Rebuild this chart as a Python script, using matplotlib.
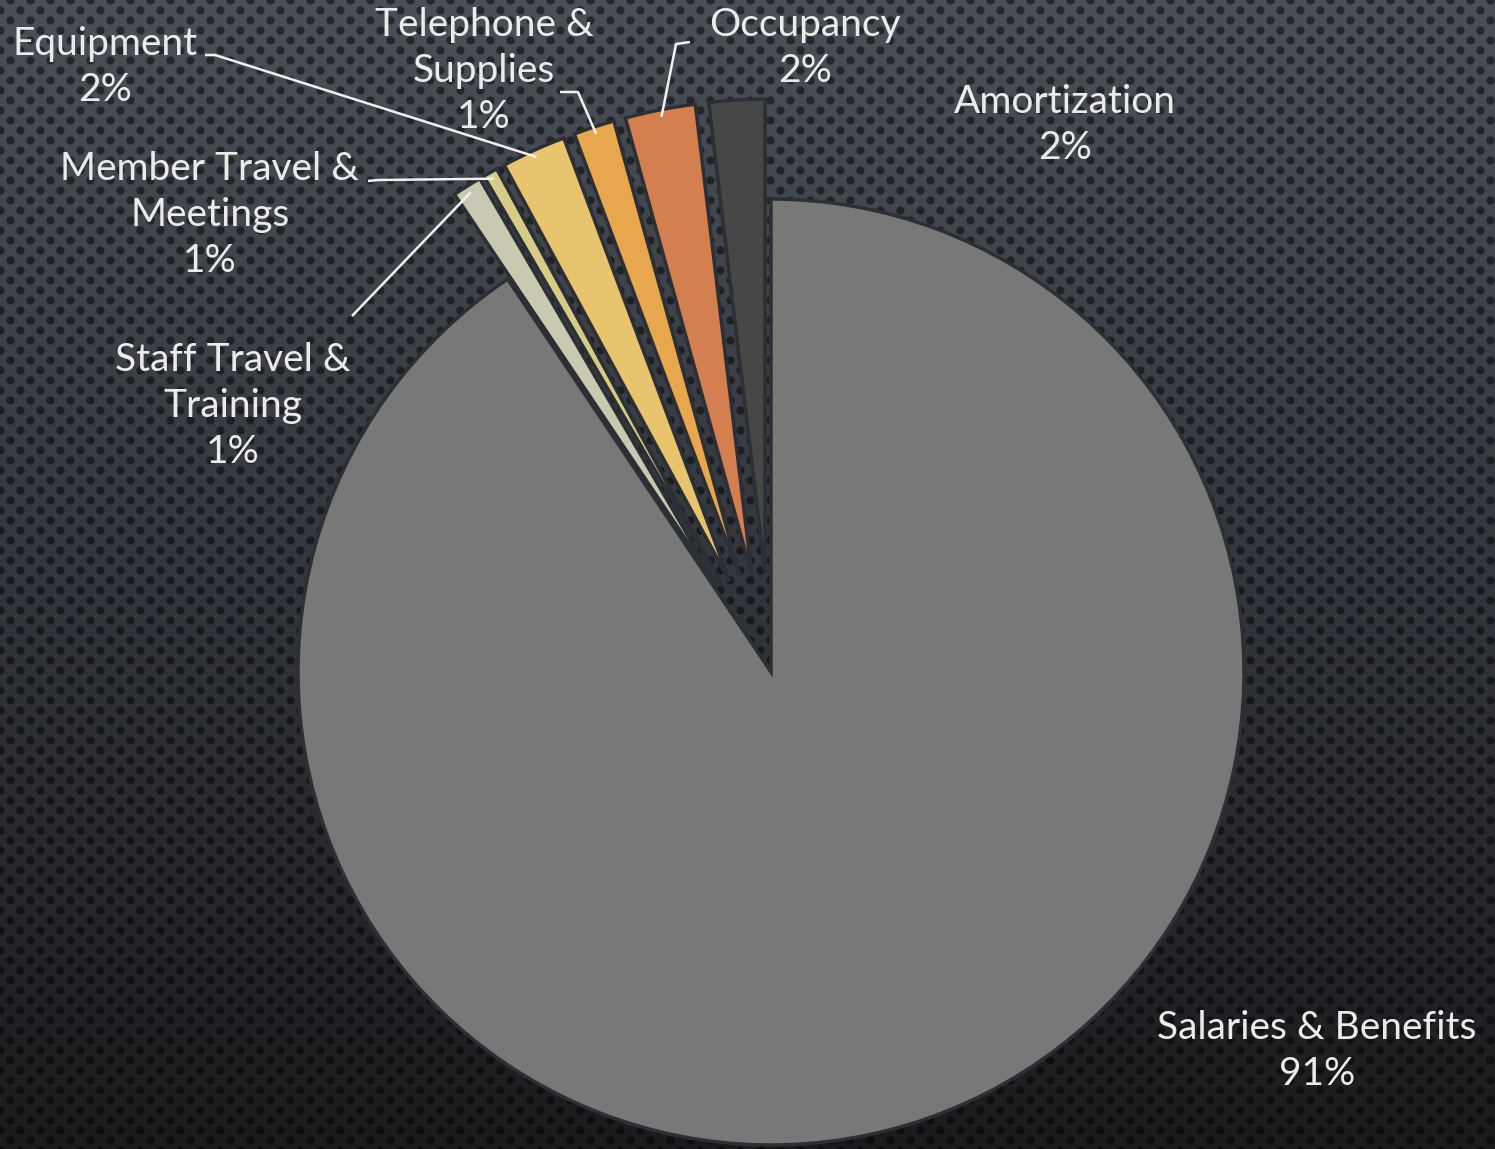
import numpy as np
import matplotlib
matplotlib.use("Agg")
import matplotlib.pyplot as plt

W, H = 1495, 1149

categories = ["Salaries & Benefits", "Staff Travel &\nTraining", "Member Travel &\nMeetings",
              "Equipment", "Telephone &\nSupplies", "Occupancy", "Amortization"]
values = [90.6, 1.0, 0.5, 2.2, 1.4, 2.4, 1.9]
colors = ["#787878", "#c9c9b2", "#d6cc88", "#e8c46e", "#e8a74e", "#d37f4f", "#474747"]
explode = [0, 100, 100, 100, 100, 100, 100]  # pie() adds these in data units (px here)

# label centre (pixel coords, y from top) and leader path from label side
label_pos = {
    "Salaries & Benefits": (1317, 1051),
    "Staff Travel &\nTraining": (233, 406),
    "Member Travel &\nMeetings": (210, 215),
    "Equipment": (105, 67),
    "Telephone &\nSupplies": (484, 71),
    "Occupancy": (805, 48),
    "Amortization": (1065, 125),
}
leader_start = {
    "Staff Travel &\nTraining": [(352, 316)],
    "Member Travel &\nMeetings": [(368, 181), (378, 180)],
    "Equipment": [(205, 55), (215, 55)],
    "Telephone &\nSupplies": [(560, 92), (578, 92)],
    "Occupancy": [(690, 42), (676, 44)],
}

fig = plt.figure(figsize=(W / 100, H / 100), dpi=100)

# background: vertical gradient with perforated dot pattern
bg = fig.add_axes([0, 0, 1, 1], zorder=0)
yy, xx = np.mgrid[0:H, 0:W]
t = (yy / H)[..., None]
top = np.array([0x4b, 0x4f, 0x57]) / 255
mid = np.array([0x33, 0x36, 0x3c]) / 255
bot = np.array([0x1b, 0x1b, 0x1d]) / 255
grad = np.where(t < 0.5, top + (mid - top) * (t / 0.5), mid + (bot - mid) * ((t - 0.5) / 0.5))
row = (yy + 5) // 10
cx = (xx + 10 * (row % 2)) % 20 - 10
cy = (yy + 5) % 10 - 5
dot = np.clip(4.6 - np.hypot(cx, cy), 0, 1)[..., None]
img = grad * (1 - 0.5 * dot)
bg.imshow(img, extent=(0, W, 0, H), aspect="auto")
bg.axis("off")

ax = fig.add_axes([0, 0, 1, 1], zorder=1)
ax.patch.set_alpha(0)

cx0, cy0, R = 771, H - 672, 473
wedges, _ = ax.pie(values, colors=colors, explode=explode, startangle=90, counterclock=False,
                   center=(cx0, cy0), radius=R, frame=True,
                   wedgeprops=dict(edgecolor="#2c2f34", linewidth=2.5))
ax.set_xlim(0, W)
ax.set_ylim(0, H)
ax.set_aspect("equal")
ax.axis("off")

total = sum(values)
for w, name, v in zip(wedges, categories, values):
    pct = int(v / total * 100 + 0.5)
    lx, ly = label_pos[name]
    ax.text(lx, H - ly, f"{name}\n{pct}%", ha="center", va="center", color="#ebebeb",
            fontsize=28, family="Lato", linespacing=1.35)
    if name in leader_start:
        ang = np.deg2rad((w.theta1 + w.theta2) / 2)
        wx, wy = w.center
        ax_ = wx + w.r * 0.985 * np.cos(ang)
        ay_ = wy + w.r * 0.985 * np.sin(ang)
        pts = [(x, H - y) for x, y in leader_start[name]] + [(ax_, ay_)]
        ax.plot([p[0] for p in pts], [p[1] for p in pts], color="#f0f0f0", lw=1.8,
                solid_capstyle="butt")

fig.savefig("out.png", dpi=100)
